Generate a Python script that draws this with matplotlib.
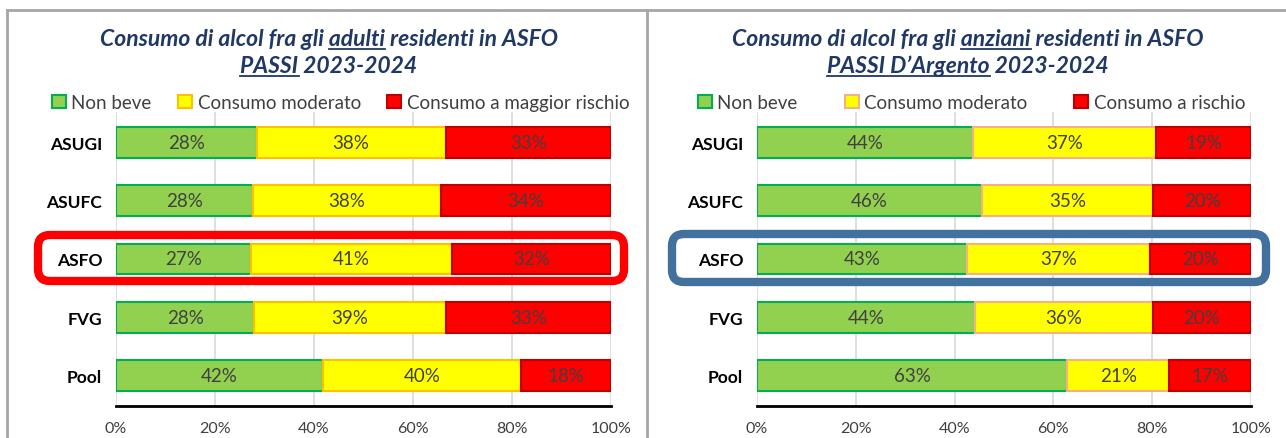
import matplotlib.pyplot as plt
import numpy as np
from matplotlib.patches import FancyBboxPatch
from matplotlib.lines import Line2D
from matplotlib.transforms import IdentityTransform

plt.rcParams['font.family'] = ['Lato', 'DejaVu Sans']

W, H = 1286, 439

categories = ["ASUGI", "ASUFC", "ASFO", "FVG", "Pool"]
x_ticks = [0, 20, 40, 60, 80, 100]
x_tick_labels = ["0%", "20%", "40%", "60%", "80%", "100%"]

# adulti (PASSI)
adulti_non_beve = [28.4, 27.6, 27.2, 27.9, 41.8]
adulti_moderato = [38.2, 38.0, 40.6, 38.7, 40.0]
adulti_rischio = [33.4, 34.4, 32.2, 33.4, 18.2]
adulti_labels = ["Non beve", "Consumo moderato", "Consumo a maggior rischio"]

# anziani (PASSI d'Argento)
anziani_non_beve = [43.8, 45.6, 42.6, 44.2, 62.8]
anziani_moderato = [37.0, 34.6, 37.0, 35.9, 20.6]
anziani_rischio = [19.2, 19.8, 20.4, 19.9, 16.6]
anziani_labels = ["Non beve", "Consumo moderato", "Consumo a rischio"]

GREEN, GREEN_EDGE = "#92D050", "#00B050"
YELLOW = "#FFFF00"
RED, RED_EDGE = "#FF0000", "#C00000"
TITLE_COL = "#1F3864"
TEXT_COL = "#404040"

fig = plt.figure(figsize=(W / 100, H / 100), dpi=100)


def fx(px):
    return px / W


def fy(py):
    return 1 - py / H


def draw_panel(ax, series, labels, yellow_edge, legend_x, col_space):
    y = np.arange(len(categories))
    left = np.zeros(len(categories))
    fills = [(GREEN, GREEN_EDGE), (YELLOW, yellow_edge), (RED, RED_EDGE)]
    for vals, lab, (fc, ec) in zip(series, labels, fills):
        bars = ax.barh(y, vals, left=left, height=0.53, color=fc,
                       edgecolor=ec, linewidth=1.5, label=lab, zorder=3)
        ax.bar_label(bars, labels=[f"{round(v)}%" for v in vals],
                     label_type="center", fontsize=13.5, color=TEXT_COL)
        left = left + np.array(vals)
    ax.set_xlim(0, 100)
    ax.set_ylim(4.52, -0.52)
    ax.set_yticks(y)
    ax.set_yticklabels(categories, fontsize=12.5, fontweight="bold")
    ax.set_xticks(x_ticks)
    ax.set_xticklabels(x_tick_labels, fontsize=11.5, color=TEXT_COL)
    ax.tick_params(length=0, pad=10)
    ax.tick_params(axis="x", pad=11)
    ax.grid(axis="x", color="#D9D9D9", linewidth=1.2, zorder=0)
    for s in ["top", "right", "left"]:
        ax.spines[s].set_visible(False)
    ax.spines["bottom"].set_linewidth(2)
    ax.spines["bottom"].set_color("#000000")
    ax.legend(loc="center left", bbox_to_anchor=(legend_x, 1.032), ncol=3,
              frameon=False, fontsize=13.5, handlelength=0.75, handleheight=0.75,
              handletextpad=0.3, columnspacing=col_space, borderaxespad=0,
              labelcolor=TEXT_COL)


ax1 = fig.add_axes([fx(116), fy(407), fx(495), fy(113) - fy(407)])
draw_panel(ax1, [adulti_non_beve, adulti_moderato, adulti_rischio],
           adulti_labels, "#FFC000", -0.145, 1.4)

ax2 = fig.add_axes([fx(757), fy(407), fx(494), fy(113) - fy(407)])
draw_panel(ax2, [anziani_non_beve, anziani_moderato, anziani_rischio],
           anziani_labels, "#F4B183", -0.135, 2.5)

# panel borders
border = dict(color="#A6A6A6", linewidth=2, transform=fig.transFigure)
fig.add_artist(Line2D([fx(7), 1], [fy(11), fy(11)], **border))
fig.add_artist(Line2D([fx(7), fx(7)], [fy(11), 0], **border))
fig.add_artist(Line2D([fx(647), fx(647)], [fy(11), 0], **border))

# titles with underlined words
renderer = fig.canvas.get_renderer()


def text_width(s, **kw):
    t = fig.text(0, 0, s, **kw)
    w = t.get_window_extent(renderer).width
    t.remove()
    return w


def title_line(xc, base, text, word, **kw):
    t = fig.text(fx(xc), fy(base), text, ha="center", va="baseline", **kw)
    bb = t.get_window_extent(renderer)
    i = text.index(word)
    end = text_width(text[:i + len(word)], **kw)
    start = end - text_width(word, **kw)
    x0 = bb.x0 + start
    x1 = bb.x0 + end
    yline = H - base - 3.5
    fig.add_artist(Line2D([x0, x1], [yline, yline], color=TITLE_COL,
                          linewidth=1.3, transform=IdentityTransform()))


tkw = dict(fontsize=16.5, fontstyle="italic", fontweight="bold", color=TITLE_COL)
title_line(329, 46, "Consumo di alcol fra gli adulti residenti in ASFO", "adulti", **tkw)
title_line(329, 73, "PASSI 2023-2024", "PASSI", **tkw)
title_line(968, 46, "Consumo di alcol fra gli anziani residenti in ASFO", "anziani", **tkw)
title_line(968, 73, "PASSI D\u2019Argento 2023-2024", "PASSI D\u2019Argento", **tkw)

# highlight boxes around ASFO
fig.add_artist(FancyBboxPatch((38, H - 282), 586, 46,
                              boxstyle="round,pad=0,rounding_size=12",
                              fill=False, edgecolor="#FF0000", linewidth=6,
                              transform=IdentityTransform(), zorder=5))
fig.add_artist(FancyBboxPatch((672, H - 283), 594, 48,
                              boxstyle="round,pad=0,rounding_size=12",
                              fill=False, edgecolor="#41719C", linewidth=6,
                              transform=IdentityTransform(), zorder=5))

fig.savefig("out.png", dpi=100)
